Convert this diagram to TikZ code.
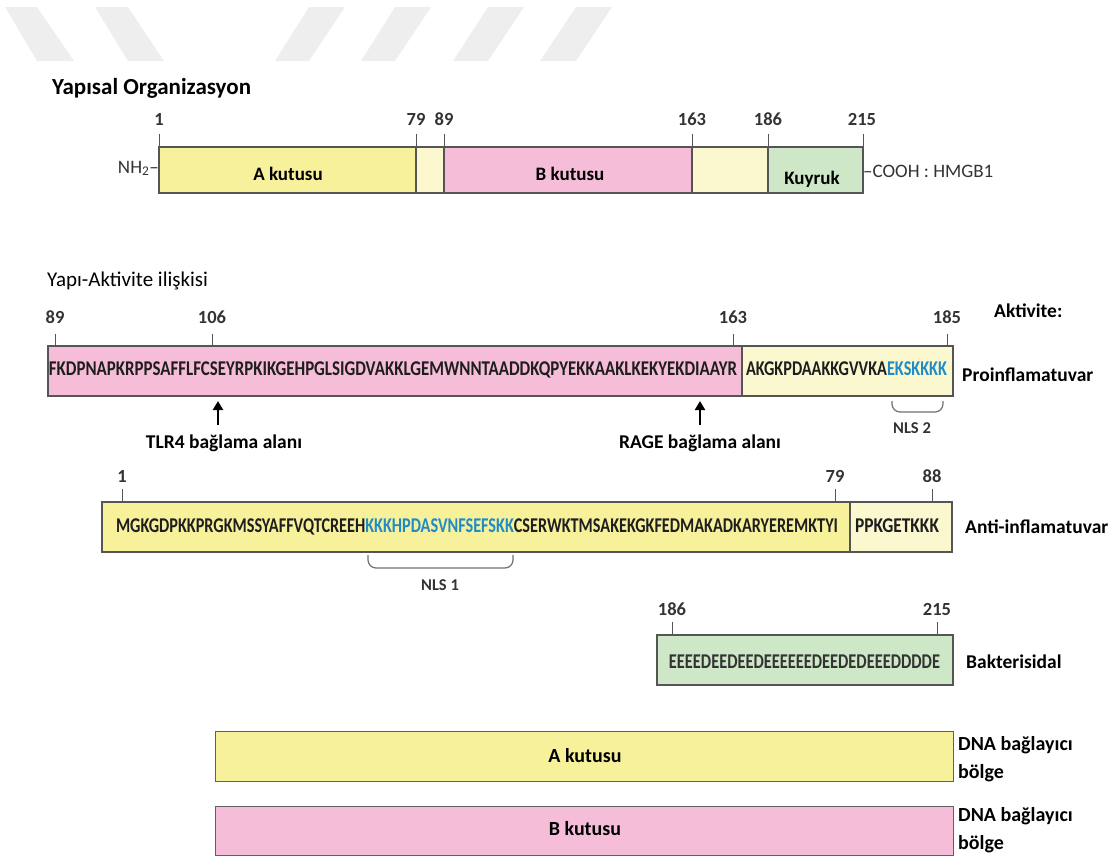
\documentclass[tikz,border=0pt]{standalone}
\usepackage{fontspec}
\setmainfont{Carlito}
\usepackage{graphicx}
\usetikzlibrary{arrows.meta}
\definecolor{ayel}{HTML}{F7F19B}
\definecolor{lyel}{HTML}{FBF8CF}
\definecolor{bpink}{HTML}{F6BDD8}
\definecolor{tgreen}{HTML}{CDE7C7}
\definecolor{nlsblue}{HTML}{1F8CC8}
\definecolor{edge}{HTML}{555555}
\definecolor{numgray}{HTML}{333333}
\definecolor{seqcol}{HTML}{1E1E1E}
\definecolor{wmark}{HTML}{EEEEEE}
\definecolor{bracegray}{HTML}{707070}
\newcommand{\fsz}[1]{\fontsize{#1}{#1}\selectfont}
\newcommand{\seqw}[2]{\resizebox{#1pt}{\height}{\fsz{21}\bfseries #2}}
\tikzset{
  segbox/.style={draw=edge,line width=1.2pt,inner sep=0pt,outer sep=0pt,anchor=north west},
  lowbox/.style={draw=gray!75!black,line width=1pt,inner sep=0pt,outer sep=0pt,anchor=north west},
  tickline/.style={draw=edge,line width=1pt},
  numlab/.style={anchor=base,inner sep=0pt,text=numgray,font=\fsz{18.5}\bfseries},
  barlab/.style={anchor=base,inner sep=0pt,text=black,font=\fsz{19}\bfseries},
  seqlab/.style={anchor=base,inner sep=0pt,text=seqcol},
  sidelab/.style={anchor=base west,inner sep=0pt,text=black,font=\fsz{19.5}\bfseries},
  dnalab/.style={anchor=base west,inner sep=0pt,text=black,font=\fsz{20}\bfseries},
  sitelab/.style={anchor=base,inner sep=0pt,text=black,font=\fsz{19.5}\bfseries},
  nlslab/.style={anchor=base,inner sep=0pt,text=numgray,font=\fsz{16.5}\bfseries},
  uparrow/.style={-{Triangle[width=10pt,length=9pt]},line width=2.6pt,black},
  nlsbrace/.style={draw=bracegray,line width=1.2pt,rounded corners=8pt},
  wm/.style={fill=wmark,draw=none}
}
\begin{document}
\begin{tikzpicture}[x=1pt,y=-1pt]
\useasboundingbox (0,0) rectangle (1120,857);
% watermark stripes
\fill[wm] (5,7) -- (37,7) -- (74,61) -- (37,61) -- cycle;
\fill[wm] (95,7) -- (128,7) -- (164,61) -- (128,61) -- cycle;
\fill[wm] (309,7) -- (345,7) -- (309,61) -- (275,61) -- cycle;
\fill[wm] (395,7) -- (431,7) -- (395,61) -- (361,61) -- cycle;
\fill[wm] (488,7) -- (524,7) -- (488,61) -- (453,61) -- cycle;
\fill[wm] (576,7) -- (612,7) -- (576,61) -- (540,61) -- cycle;

% ---------- Yapisal Organizasyon ----------
\node[anchor=base west,inner sep=0pt,font=\fsz{23}\bfseries] (title1) at (52,94) {Yapısal Organizasyon};

\node[segbox,fill=ayel,minimum width=257pt,minimum height=46pt] (ta) at (159,147) {};
\node[segbox,fill=lyel,minimum width=28pt,minimum height=46pt] (tl1) at (416,147) {};
\node[segbox,fill=bpink,minimum width=248pt,minimum height=46pt] (tb) at (444,147) {};
\node[segbox,fill=lyel,minimum width=76pt,minimum height=46pt] (tl2) at (692,147) {};
\node[segbox,fill=tgreen,minimum width=95pt,minimum height=46pt] (tk) at (768,147) {};

\node[numlab] (n1) at (159,125) {1};
\node[numlab] (n79) at (416,125) {79};
\node[numlab] (n89) at (444,125) {89};
\node[numlab] (n163) at (692,125) {163};
\node[numlab] (n186) at (768,125) {186};
\node[numlab] (n215) at (862,125) {215};
\draw[tickline] (ta.north west) -- ++(0,-13);
\draw[tickline] (tl1.north west) -- ++(0,-13);
\draw[tickline] (tb.north west) -- ++(0,-13);
\draw[tickline] (tl2.north west) -- ++(0,-13);
\draw[tickline] (tk.north west) -- ++(0,-13);
\draw[tickline] (tk.north east) -- ++(0,-13);

\node[barlab] (tat) at (288,180) {A kutusu};
\node[barlab] (tbt) at (570,180) {B kutusu};
\node[barlab] (tkt) at (812,184) {Kuyruk};
\node[anchor=base east,inner sep=0pt,text=numgray,font=\fsz{19}] (nh2) at (ta.west |- 0,173) {NH\textsubscript{2}–};
\node[anchor=base west,inner sep=0pt,text=numgray,font=\fsz{19}] (cooh) at (tk.east |- 0,177) {–COOH : HMGB1};

% ---------- Yapi-Aktivite ----------
\node[anchor=base west,inner sep=0pt,font=\fsz{21}] (title2) at (47,286) {Yapı-Aktivite ilişkisi};
\node[sidelab] (akt) at (994,317) {Aktivite:};

% row 1
\node[segbox,fill=bpink,minimum width=694pt,minimum height=50pt] (r1a) at (48,346) {};
\node[segbox,fill=lyel,minimum width=211pt,minimum height=50pt] (r1b) at (742,346) {};
\node[numlab] (m89) at (55,323) {89};
\node[numlab] (m106) at (212,323) {106};
\node[numlab] (m163) at (733,323) {163};
\node[numlab] (m185) at (947,323) {185};
\draw[tickline] (m89 |- r1a.north) -- ++(0,-12);
\draw[tickline] (m106 |- r1a.north) -- ++(0,-12);
\draw[tickline] (m163 |- r1a.north) -- ++(0,-12);
\draw[tickline] (m185 |- r1a.north) -- ++(0,-12);
\node[seqlab] (s1a) at (393,375) {\seqw{688}{FKDPNAPKRPPSAFFLFCSEYRPKIKGEHPGLSIGDVAKKLGEMWNNTAADDKQPYEKKAAKLKEKYEKDIAAYR}};
\node[seqlab] (s1b) at (846.5,375) {\seqw{201}{AKGKPDAAKKGVVKA\textcolor{nlsblue}{EKSKKKK}}};
\node[sidelab] (pro) at (962,381) {Proinflamatuvar};

\coordinate (tlrtip) at (218,401);
\coordinate (tlrtail) at (218,425);
\coordinate (ragetip) at (700,401);
\coordinate (ragetail) at (700,425);
\draw[uparrow] (tlrtail) -- (tlrtip);
\draw[uparrow] (ragetail) -- (ragetip);
\node[sitelab] (tlr) at (224,448) {TLR4 bağlama alanı};
\node[sitelab] (rage) at (700,448) {RAGE bağlama alanı};

\coordinate (b2l) at (892,401);
\coordinate (b2m) at (917,412);
\coordinate (b2r) at (943,401);
\draw[nlsbrace] (b2l) |- (b2m) -| (b2r);
\node[nlslab] (nls2) at (912,433) {NLS 2};

% row 2
\node[segbox,fill=ayel,minimum width=748pt,minimum height=50pt] (r2a) at (102,502) {};
\node[segbox,fill=lyel,minimum width=102pt,minimum height=50pt] (r2b) at (850,502) {};
\node[numlab] (k1) at (122,482) {1};
\node[numlab] (k79) at (835,482) {79};
\node[numlab] (k88) at (932,482) {88};
\draw[tickline] (k1 |- r2a.north) -- ++(0,-13);
\draw[tickline] (k79 |- r2a.north) -- ++(0,-13);
\draw[tickline] (k88 |- r2a.north) -- ++(0,-13);
\node[seqlab] (s2a) at (477,532) {\seqw{722}{MGKGDPKKPRGKMSSYAFFVQTCREEH\textcolor{nlsblue}{KKKHPDASVNFSEFSKK}CSERWKTMSAKEKGKFEDMAKADKARYEREMKTYI}};
\node[seqlab] (s2b) at (897,532) {\seqw{84}{PPKGETKKK}};
\node[sidelab] (anti) at (965,533) {Anti-inflamatuvar};

\coordinate (b1l) at (368,555);
\coordinate (b1m) at (440,568);
\coordinate (b1r) at (513,555);
\draw[nlsbrace] (b1l) |- (b1m) -| (b1r);
\node[nlslab] (nls1) at (440,590) {NLS 1};

% row 3
\node[segbox,fill=tgreen,minimum width=296pt,minimum height=50pt] (r3) at (657,635) {};
\node[numlab] (g186) at (672,615) {186};
\node[numlab] (g215) at (937,615) {215};
\draw[tickline] (g186 |- r3.north) -- ++(0,-13);
\draw[tickline] (g215 |- r3.north) -- ++(0,-13);
\node[seqlab,text=numgray] (s3) at (804.5,668) {\seqw{271}{EEEEDEEDEEDEEEEEEDEEDEDEEEDDDDE}};
\node[sidelab] (bak) at (966,668) {Bakterisidal};

% bottom boxes
\node[lowbox,fill=ayel,minimum width=738pt,minimum height=50pt] (da) at (215,731) {};
\node[lowbox,fill=bpink,minimum width=738pt,minimum height=49pt] (db) at (215,806) {};
\node[barlab,font=\fsz{20}\bfseries] (dat) at (585,762) {A kutusu};
\node[barlab,font=\fsz{20}\bfseries] (dbt) at (585,835) {B kutusu};
\node[dnalab] (d1a) at (958,750) {DNA bağlayıcı};
\node[dnalab] (d1b) at (958,778) {bölge};
\node[dnalab] (d2a) at (958,821) {DNA bağlayıcı};
\node[dnalab] (d2b) at (958,849) {bölge};
\end{tikzpicture}
\end{document}
